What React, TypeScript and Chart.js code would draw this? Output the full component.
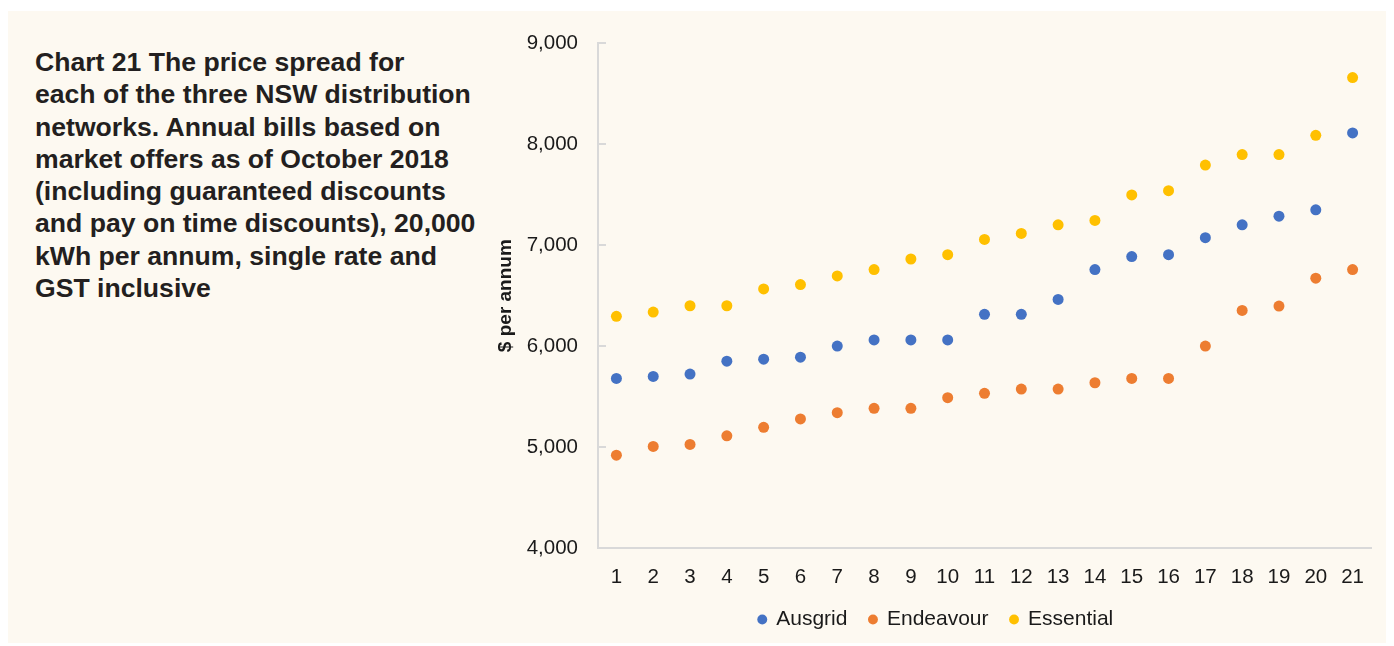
import React, { useEffect, useRef } from "react";
import { Chart, registerables } from "chart.js";

Chart.register(...registerables);

const categories = ["1","2","3","4","5","6","7","8","9","10","11","12","13","14","15","16","17","18","19","20","21"];
const ausgrid = [5680, 5700, 5723, 5851, 5871, 5890, 6000, 6061, 6061, 6061, 6315, 6315, 6462, 6758, 6887, 6906, 7074, 7202, 7287, 7350, 8112];
const endeavour = [4920, 5006, 5026, 5111, 5196, 5279, 5341, 5384, 5384, 5489, 5532, 5575, 5575, 5637, 5680, 5680, 6000, 6354, 6397, 6673, 6758];
const essential = [6295, 6337, 6400, 6400, 6567, 6610, 6695, 6758, 6863, 6906, 7057, 7116, 7202, 7245, 7498, 7540, 7794, 7898, 7898, 8088, 8660];
const yTicks = [4000, 5000, 6000, 7000, 8000, 9000];
const titleLines = [
  "Chart 21 The price spread for",
  "each of the three NSW distribution",
  "networks. Annual bills based on",
  "market offers as of October 2018",
  "(including guaranteed discounts",
  "and pay on time discounts), 20,000",
  "kWh per annum, single rate and",
  "GST inclusive",
];

const FONT = "'Liberation Sans', Arial, Helvetica, sans-serif";
const TEXT = "#1a1a1a";
const AXIS = "#d9d9d9";

const innerTicks = {
  id: "innerTicks",
  afterDraw(chart: any) {
    const y = chart.scales.y;
    const x = chart.scales.x;
    const ctx = chart.ctx;
    ctx.save();
    ctx.strokeStyle = AXIS;
    ctx.lineWidth = 2;
    yTicks.forEach((v) => {
      const py = Math.round(y.getPixelForValue(v));
      ctx.beginPath();
      ctx.moveTo(x.left, py);
      ctx.lineTo(x.left + 8, py);
      ctx.stroke();
    });
    ctx.restore();
  },
};

export default function App() {
  const ref = useRef<HTMLCanvasElement>(null);
  useEffect(() => {
    if (!ref.current) return;
    const mk = (label: string, data: number[], color: string) => ({
      label,
      data,
      showLine: false,
      backgroundColor: color,
      borderColor: color,
      pointRadius: 5.5,
      pointBorderWidth: 0,
      pointStyle: "circle",
    });
    const chart = new Chart(ref.current, {
      type: "line",
      data: {
        labels: categories,
        datasets: [
          mk("Ausgrid", ausgrid, "#4472C4"),
          mk("Endeavour", endeavour, "#ED7D31"),
          mk("Essential", essential, "#FFC000"),
        ],
      },
      plugins: [innerTicks],
      options: {
        animation: false,
        responsive: false,
        maintainAspectRatio: false,
        layout: { padding: { top: 30, right: 15, bottom: 3, left: 11 } },
        plugins: {
          tooltip: { enabled: false },
          legend: {
            position: "bottom",
            labels: {
              usePointStyle: true,
              pointStyle: "circle",
              boxWidth: 7,
              boxHeight: 7,
              padding: 22,
              color: TEXT,
              font: { family: FONT, size: 21 },
            },
          },
        },
        scales: {
          x: {
            type: "category",
            offset: true,
            grid: { display: false, drawTicks: false },
            border: { display: true, color: AXIS, width: 2 },
            ticks: { color: TEXT, padding: 17, font: { family: FONT, size: 20.5 }, maxRotation: 0, autoSkip: false },
            afterFit: (s: any) => { s.height = 39; },
          },
          y: {
            min: 4000,
            max: 9000,
            grid: { display: false, drawTicks: false },
            border: { display: true, color: AXIS, width: 2 },
            ticks: {
              stepSize: 1000,
              color: TEXT,
              padding: 20,
              font: { family: FONT, size: 20.5 },
              callback: (v: any) => Number(v).toLocaleString("en-US"),
            },
            title: {
              display: true,
              text: "$ per annum",
              color: TEXT,
              font: { family: FONT, size: 19, weight: "bold" },
              padding: { top: -7, bottom: 4 },
            },
            afterFit: (s: any) => { s.width = 97; },
          },
        },
      },
    });
    return () => chart.destroy();
  }, []);

  return (
    <div
      style={{
        position: "relative",
        marginTop: 3,
        width: 1378,
        height: 632,
        background: "#FDF9F1",
      }}
    >
      <div
        style={{
          position: "absolute",
          left: 27,
          top: 35,
          fontFamily: FONT,
          fontWeight: "bold",
          fontSize: 26.6,
          lineHeight: "32.3px",
          color: "#231f20",
          whiteSpace: "nowrap",
        }}
      >
        {titleLines.map((l, i) => (
          <div key={i}>{l}</div>
        ))}
      </div>
      <canvas
        ref={ref}
        width={896}
        height={632}
        style={{ position: "absolute", left: 482, top: 0, width: 896, height: 632 }}
      />
    </div>
  );
}
